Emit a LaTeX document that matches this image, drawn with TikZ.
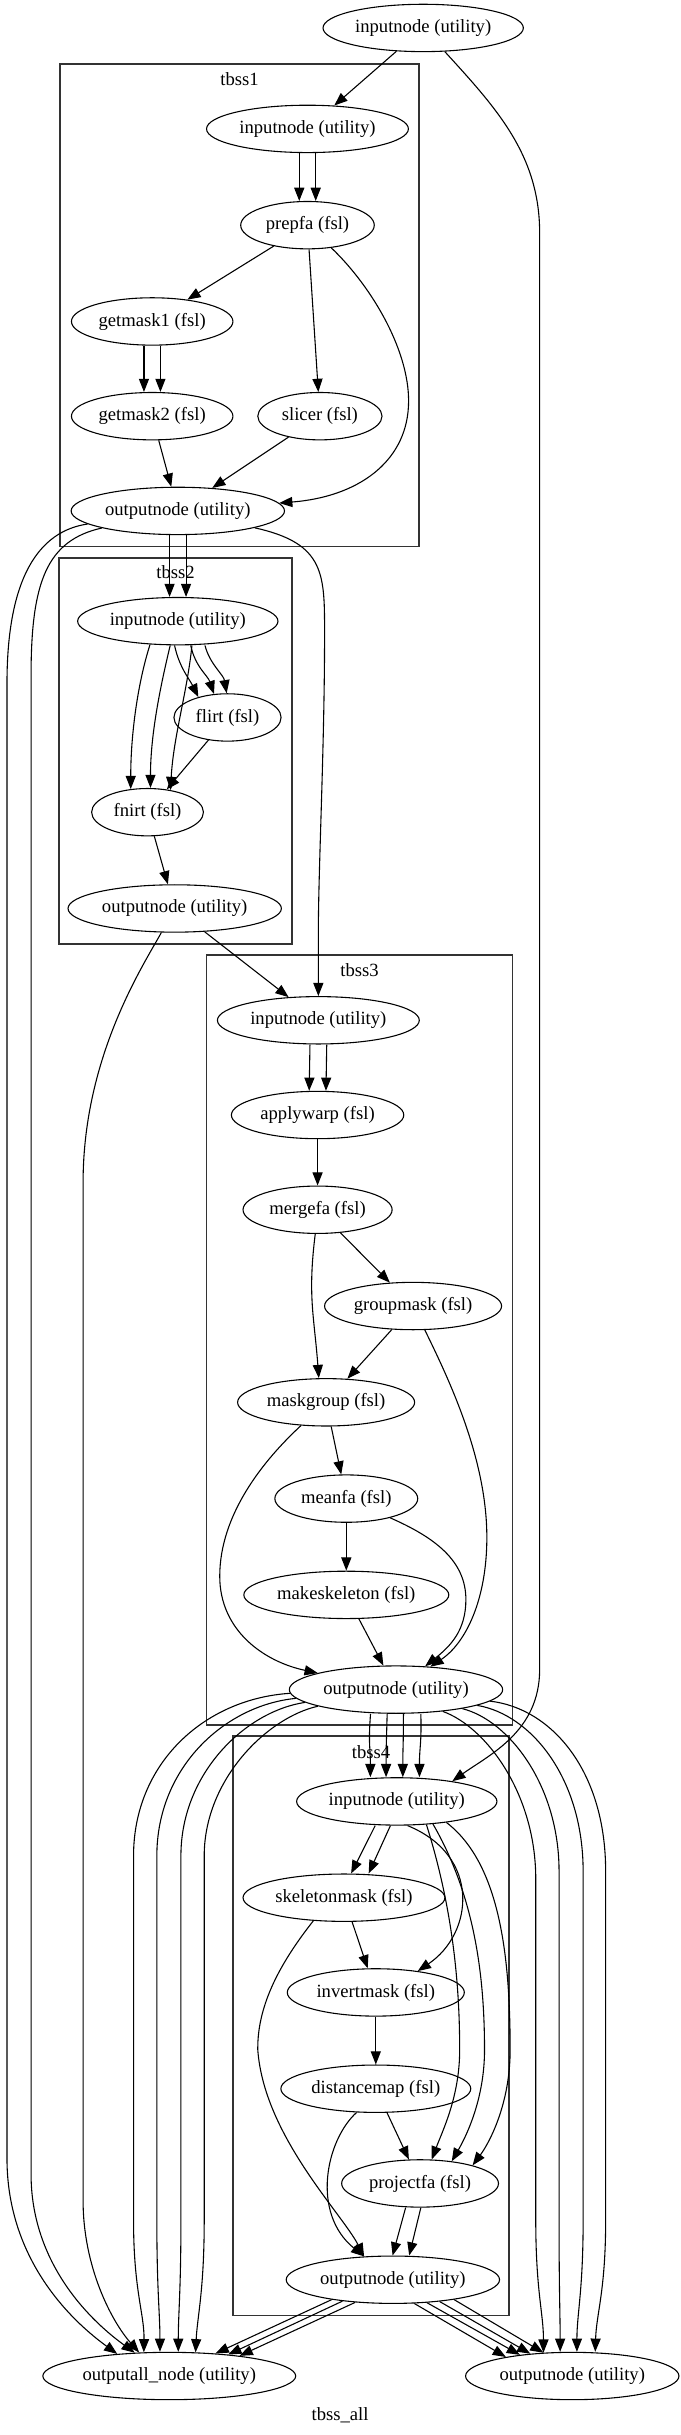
\documentclass[tikz,border=0pt]{standalone}
\usepackage{fontspec}
\setmainfont{Liberation Serif}
\usetikzlibrary{arrows.meta,shapes.geometric}
\tikzset{
  nd/.style={ellipse, draw, line width=0.7pt, minimum height=30.5pt, inner xsep=1.75pt, inner ysep=1pt, font=\fontsize{12pt}{14pt}\selectfont},
  ed/.style={line width=0.7pt, -{Triangle[length=8.5pt,width=6.5pt]}},
  clus/.style={draw=black!80, line width=1.1pt},
  clab/.style={font=\fontsize{12pt}{14pt}\selectfont, inner sep=0pt}
}
\begin{document}
\begin{tikzpicture}[x=1pt,y=-1pt]
\useasboundingbox (0,0) rectangle (438,1568);
% clusters
\draw[clus] (38.5,41.4) rectangle (270,352);
\draw[clus] (38,359.2) rectangle (188,608);
\draw[clus] (133,615) rectangle (330,1111);
\draw[clus] (150,1118) rectangle (327.7,1491);
\node[clab] (L1) at (154.25,51) {tbss1};
\node[clab] (L2) at (113,368.5) {tbss2};
\node[clab] (L3) at (231.5,625) {tbss3};
\node[clab] (L4) at (239,1128) {tbss4};
\node[clab] (Lall) at (219,1555.5) {tbss\_all};
% nodes
\node[nd, minimum width=129pt] (T) at (272.5,18) {inputnode (utility)};
\node[nd, minimum width=130pt] (I1) at (198,83) {inputnode (utility)};
\node[nd, minimum width=86pt] (prepfa) at (198,145) {prepfa (fsl)};
\node[nd, minimum width=104pt] (getmask1) at (98,207) {getmask1 (fsl)};
\node[nd, minimum width=104pt] (getmask2) at (98,268) {getmask2 (fsl)};
\node[nd, minimum width=80pt] (slicer) at (206,268) {slicer (fsl)};
\node[nd, minimum width=137pt] (O1) at (114.5,329) {outputnode (utility)};
\node[nd, minimum width=129pt] (I2) at (114.5,400) {inputnode (utility)};
\node[nd, minimum width=69pt] (flirt) at (146.5,462) {flirt (fsl)};
\node[nd, minimum width=72pt] (fnirt) at (95,523) {fnirt (fsl)};
\node[nd, minimum width=137pt] (O2) at (112.5,585) {outputnode (utility)};
\node[nd, minimum width=130pt] (I3) at (205,657) {inputnode (utility)};
\node[nd, minimum width=111pt] (applywarp) at (204.5,718) {applywarp (fsl)};
\node[nd, minimum width=96pt] (mergefa) at (204.5,779) {mergefa (fsl)};
\node[nd, minimum width=114pt] (groupmask) at (266,841) {groupmask (fsl)};
\node[nd, minimum width=114pt] (maskgroup) at (210,903) {maskgroup (fsl)};
\node[nd, minimum width=92pt] (meanfa) at (223,965) {meanfa (fsl)};
\node[nd, minimum width=132pt] (makeskeleton) at (223,1027) {makeskeleton (fsl)};
\node[nd, minimum width=137pt] (O3) at (255,1088) {outputnode (utility)};
\node[nd, minimum width=129pt] (I4) at (255.5,1160) {inputnode (utility)};
\node[nd, minimum width=130pt] (skeletonmask) at (221.5,1222) {skeletonmask (fsl)};
\node[nd, minimum width=114pt] (invertmask) at (242,1283) {invertmask (fsl)};
\node[nd, minimum width=122pt] (distancemap) at (242,1345) {distancemap (fsl)};
\node[nd, minimum width=101pt] (projectfa) at (270.5,1406) {projectfa (fsl)};
\node[nd, minimum width=136pt] (O4) at (253,1468) {outputnode (utility)};
\node[nd, minimum width=159pt] (OA) at (109,1530) {outputall\_node (utility)};
\node[nd, minimum width=137pt] (FO) at (368.5,1530) {outputnode (utility)};
% top
\draw[ed] (T) -- (I1);
\draw[ed] (T) .. controls (320,70) and (347.5,100) .. (347.5,150) -- (347.5,1075) .. controls (347.5,1115) and (315,1130) .. (I4.20);
% tbss1
\draw[ed] ([xshift=-5.3pt]I1.south) -- ([xshift=-5.3pt]prepfa.north);
\draw[ed] ([xshift=5.3pt]I1.south) -- ([xshift=5.3pt]prepfa.north);
\draw[ed] (prepfa) -- (getmask1);
\draw[ed] (prepfa) -- (slicer);
\draw[ed] (prepfa) .. controls (240,185) and (265,228) .. (263,262) .. controls (261,298) and (230,320) .. (O1);
\draw[ed] ([xshift=-5.3pt]getmask1.south) -- ([xshift=-5.3pt]getmask2.north);
\draw[ed] ([xshift=5.3pt]getmask1.south) -- ([xshift=5.3pt]getmask2.north);
\draw[ed] (getmask2) -- (O1);
\draw[ed] (slicer) -- (O1);
% O1 out
\draw[ed] ([xshift=-5.3pt]O1.south) -- ([xshift=-5.3pt]I2.north);
\draw[ed] ([xshift=5.3pt]O1.south) -- ([xshift=5.3pt]I2.north);
\draw[ed] (O1) .. controls (210,350) and (209,370) .. (209,410) .. controls (209,480) and (205,560) .. (205,600) -- (I3);
\draw[ed] (O1) .. controls (25,342) and (4.5,372) .. (4.5,440) -- (4.5,1390) .. controls (4.5,1450) and (40,1490) .. (OA.157);
\draw[ed] (O1) .. controls (30,348) and (20,375) .. (20,435) -- (20,1400) .. controls (20,1455) and (55,1492) .. (OA.146);
% tbss2
\draw[ed] ([xshift=-2.1pt]I2.south) .. controls +(3,14) and +(-6,-12) .. (flirt.145);
\draw[ed] ([xshift=8.3pt]I2.south) .. controls +(3,14) and +(-4,-12) .. (flirt.120);
\draw[ed] ([xshift=17.5pt]I2.south) .. controls +(3,12) and +(-2,-12) .. (flirt.92);
\draw[ed] (I2.-140) .. controls +(-8,25) and +(0,-35) .. (fnirt.126);
\draw[ed] ([xshift=-4.9pt]I2.south) .. controls +(-6,25) and +(0,-35) .. ([xshift=1.9pt]fnirt.north);
\draw[ed] ([xshift=9.1pt]I2.south) .. controls +(-3,30) and +(2,-35) .. (fnirt.44);
\draw[ed] (flirt) -- (fnirt);
\draw[ed] (fnirt) -- (O2);
% O2 out
\draw[ed] (O2) .. controls (92,622) and (54,680) .. (53.5,760) -- (53.5,1417) .. controls (53.5,1460) and (72,1495) .. (OA.142);
\draw[ed] (O2) -- (I3);
% tbss3
\draw[ed] ([xshift=-5.4pt]I3.south) -- ([xshift=-5.4pt]applywarp.north);
\draw[ed] ([xshift=5.4pt]I3.south) -- ([xshift=5.4pt]applywarp.north);
\draw[ed] (applywarp) -- (mergefa);
\draw[ed] (mergefa) -- (groupmask);
\draw[ed] ([xshift=-1.5pt]mergefa.south) .. controls +(-5,40) and +(-3,-40) .. ([xshift=-4.7pt]maskgroup.north);
\draw[ed] (groupmask) -- (maskgroup);
\draw[ed] (groupmask) .. controls (290,890) and (313.5,940) .. (313.5,990) .. controls (313.5,1030) and (300,1058) .. (O3);
\draw[ed] (maskgroup) -- (meanfa);
\draw[ed] (maskgroup) .. controls (170,940) and (141.5,975) .. (141.5,1015) .. controls (141.5,1050) and (170,1070) .. (O3);
\draw[ed] (meanfa) -- (makeskeleton);
\draw[ed] (meanfa) .. controls (280,990) and (300,1005) .. (300,1030) .. controls (300,1050) and (290,1060) .. (O3);
\draw[ed] (makeskeleton) -- (O3);
% O3 -> I4
\draw[ed] ([xshift=-16.4pt]O3.south) .. controls +(-1.5,20) and +(0,-20) .. ([xshift=-17pt]I4.north);
\draw[ed] ([xshift=-5.7pt]O3.south) .. controls +(-0.5,20) and +(0,-20) .. ([xshift=-6.9pt]I4.north);
\draw[ed] ([xshift=4.8pt]O3.south) .. controls +(0,20) and +(0,-20) .. ([xshift=3.9pt]I4.north);
\draw[ed] ([xshift=16pt]O3.south) .. controls +(0.5,20) and +(0,-20) .. ([xshift=14.6pt]I4.north);
% O3 -> OA
\draw[ed] (O3.-178) .. controls (131,1094) and (86,1136) .. (86,1195) -- (86,1430) .. controls (86,1475) and (93,1490) .. (OA.137);
\draw[ed] (O3.-175) .. controls (145,1098) and (101,1138) .. (101,1195) -- (101,1430) .. controls (101,1475) and (103,1490) .. ([xshift=-6pt]OA.north);
\draw[ed] (O3.-172) .. controls (158,1102) and (116.5,1142) .. (116.5,1195) -- (116.5,1430) .. controls (116.5,1475) and (114.8,1490) .. ([xshift=5.8pt]OA.north);
\draw[ed] (O3.-168) .. controls (172,1106) and (131.5,1146) .. (131.5,1195) -- (131.5,1430) .. controls (131.5,1475) and (127,1492) .. (OA.42);
% O3 -> FO
\draw[ed] (O3.-7) .. controls (355,1100) and (390,1140) .. (390,1205) -- (390,1430) .. controls (390,1475) and (384,1490) .. ([xshift=14.8pt]FO.north);
\draw[ed] (O3.-11) .. controls (342,1104) and (375.5,1145) .. (375.5,1205) -- (375.5,1430) .. controls (375.5,1475) and (371.5,1490) .. ([xshift=3pt]FO.north);
\draw[ed] (O3.-16.5) .. controls (328,1108) and (360,1150) .. (360,1205) -- (360,1430) .. controls (360,1475) and (360.7,1490) .. ([xshift=-7.8pt]FO.north);
\draw[ed] (O3.-25) .. controls (313,1112) and (345,1155) .. (345,1210) -- (345,1430) .. controls (345,1475) and (350,1490) .. (FO.141.6);
% tbss4
\draw[ed] ([xshift=-13.9pt]I4.south) -- ([xshift=4.6pt]skeletonmask.north);
\draw[ed] ([xshift=-4.1pt]I4.south) -- ([xshift=15.9pt]skeletonmask.north);
\draw[ed] ([xshift=7pt]I4.south) .. controls (310,1195) and (305,1245) .. (invertmask.27);
\draw[ed] (I4.-38.5) .. controls (292,1230) and (296,1280) .. (296,1320) .. controls (296,1350) and (285,1372) .. (projectfa.64);
\draw[ed] (I4.-32) .. controls (305,1220) and (312,1270) .. (312,1320) .. controls (312,1352) and (300,1376) .. (projectfa.35);
\draw[ed] (I4.-23) .. controls (322,1200) and (328.5,1260) .. (328.5,1320) .. controls (328.5,1355) and (315,1380) .. (projectfa.19);
\draw[ed] (skeletonmask) -- (invertmask);
\draw[ed] (skeletonmask.-143) .. controls (182,1262) and (165.5,1290) .. (166,1320) .. controls (170,1375) and (220,1425) .. (O4.141.4);
\draw[ed] (invertmask) -- (distancemap);
\draw[ed] (distancemap) -- (projectfa);
\draw[ed] (distancemap.-129) .. controls (210,1378) and (200,1425) .. (O4.141.4);
\draw[ed] ([xshift=-9.3pt]projectfa.south) -- ([xshift=-0.2pt]O4.north);
\draw[ed] ([xshift=0.5pt]projectfa.south) -- ([xshift=10.5pt]O4.north);
% O4 out
\draw[ed] (O4.-162.6) -- (OA.26.8);
\draw[ed] (O4.-157.6) -- (OA.20.3);
\draw[ed] (O4.-149.3) -- (OA.16.1);
\draw[ed] (O4.-48.4) -- (FO.164.1);
\draw[ed] (O4.-34.8) -- (FO.158.3);
\draw[ed] (O4.-25.2) -- (FO.152.7);
\draw[ed] (O4.-18.6) -- (FO.141.5);
\end{tikzpicture}
\end{document}
